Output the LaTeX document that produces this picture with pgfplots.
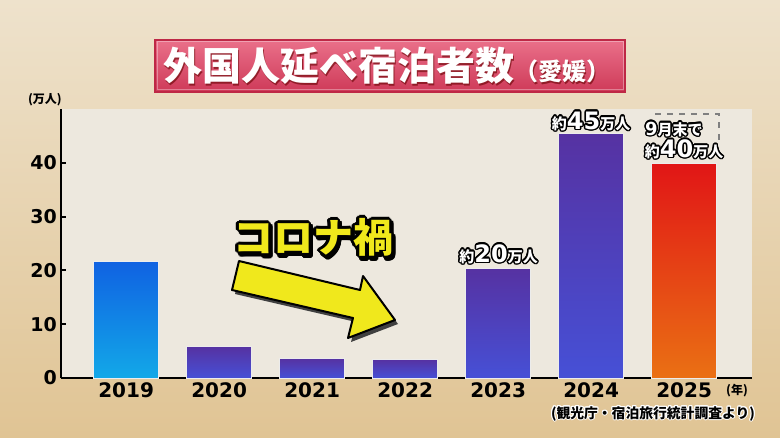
\documentclass[border=0pt]{standalone}
\usepackage{pgfplots}
\pgfplotsset{compat=1.18}
\usepackage{fontspec}
\setmainfont{DejaVu Sans}
\newfontfamily\jp{Noto Sans CJK JP}
\usepackage{contour}
\contourlength{0.7pt}
\definecolor{bgA}{RGB}{238,226,204}
\definecolor{bgB}{RGB}{224,196,148}
\definecolor{panel}{RGB}{237,232,222}
\definecolor{b19t}{RGB}{16,98,226}
\definecolor{b19b}{RGB}{18,168,232}
\definecolor{pt}{RGB}{86,50,162}
\definecolor{pb}{RGB}{70,80,214}
\definecolor{rt}{RGB}{225,22,22}
\definecolor{rb}{RGB}{234,112,20}
\definecolor{ttlT}{RGB}{234,112,138}
\definecolor{ttlB}{RGB}{206,58,88}
\definecolor{ttlD}{RGB}{190,40,70}
\definecolor{yel}{RGB}{240,232,28}
\newcommand\lbl[1]{\contour{black}{{\jp\bfseries\fontsize{7.5}{8}\selectfont 約}{\bfseries\fontsize{12}{12}\selectfont #1}{\jp\bfseries\fontsize{7.5}{8}\selectfont 万人}}}
\begin{document}
\begin{tikzpicture}
\fill[top color=bgA, bottom color=bgB] (0,0) rectangle (390pt,219pt);
\begin{axis}[
  at={(30.5pt,30pt)}, anchor=south west,
  scale only axis, width=345.5pt, height=134.5pt,
  xmin=-0.7, xmax=6.73, ymin=0, ymax=50,
  axis background/.style={fill=panel},
  axis x line=bottom, axis y line=left,
  axis line style={-, line width=1pt, black},
  ytick={0,10,20,30,40},
  xtick={0,1,2,3,4,5,6},
  xticklabels={2019,2020,2021,2022,2023,2024,2025},
  xtick style={draw=none},
  ytick style={line width=1pt, black},
  tick align=inside, major tick length=2.7pt,
  /pgf/number format/assume math mode=true,
  yticklabel style={font=\bfseries\fontsize{9.5}{10}\selectfont, xshift=1.5pt},
  xticklabel style={font=\bfseries\fontsize{10}{11}\selectfont, yshift=1.3pt},
  mybar/.style={ybar, bar width=32.5pt, bar shift=0pt, draw=white!85!gray, line width=0.4pt},
  clip=false,
]
\addplot[mybar, top color=b19t, bottom color=b19b] coordinates {(0,21.6)};
\addplot[mybar, top color=pt, bottom color=pb] coordinates {(1,5.8)};
\addplot[mybar, top color=pt, bottom color=pb] coordinates {(2,3.6)};
\addplot[mybar, top color=pt, bottom color=pb] coordinates {(3,3.4)};
\addplot[mybar, top color=pt, bottom color=pb] coordinates {(4,20.3)};
\addplot[mybar, top color=pt, bottom color=pb] coordinates {(5,45.4)};
\addplot[mybar, top color=rt, bottom color=rb] coordinates {(6,39.8)};
% labels
\node[text=white, inner sep=0pt] at (axis cs:4.005,22.9) {\lbl{20}};
\node[text=white, inner sep=0pt] at (axis cs:5.0,47.6) {\lbl{45}};
\node[text=white, inner sep=0pt] at (axis cs:6.0,42.4) {\lbl{40}};
\node[text=white, inner sep=0pt] at (axis cs:5.89,46.1) {\contour{black}{{\bfseries\fontsize{9}{9}\selectfont 9}{\jp\bfseries\fontsize{7.5}{8}\selectfont 月末で}}};
\draw[gray, dashed, line width=0.8pt] (axis cs:5.69,49.1) -- (axis cs:6.376,49.1) -- (axis cs:6.376,44.3);
\end{axis}
\begin{scope}[x=0.5pt, y=-0.5pt, shift={(0pt,219pt)}]
  % title box
  \draw[ttlD, line width=0.8pt, top color=ttlT, bottom color=ttlB] (155,40) rectangle (625,92);
  \draw[white, opacity=0.35, line width=0.5pt] (157,42) rectangle (623,90);
  \node[anchor=west, inner sep=0pt, text=black!60!red, opacity=0.6] at (164.5,67.5)
    {{\jp\bfseries\fontsize{19.5}{20}\selectfont 外国人延べ宿泊者数}{\jp\bfseries\fontsize{12}{12}\selectfont （愛媛）}};
  \node[anchor=west, inner sep=0pt, text=white] at (163,66)
    {{\jp\bfseries\fontsize{19.5}{20}\selectfont 外国人延べ宿泊者数}{\jp\bfseries\fontsize{12}{12}\selectfont （愛媛）}};
  % axis unit labels
  \node[inner sep=0pt] at (45,100) {\jp\bfseries\fontsize{6}{6}\selectfont (万人)};
  \node[inner sep=0pt] at (737,391) {\jp\bfseries\fontsize{6}{6}\selectfont (年)};
  \node[inner sep=0pt] at (653,414) {\contourlength{0.5pt}\contour{white}{\jp\bfseries\fontsize{6.9}{7}\selectfont (観光庁・宿泊旅行統計調査より)}};
  % arrow
  \fill[black!75] (242,265) -- (363,294) -- (366,280) -- (398,324) -- (351,342) -- (356,322) -- (235,294) -- cycle;
  \draw[black, line width=1pt, fill=yel, line join=round] (239,261) -- (360,290) -- (363,276) -- (395,320) -- (348,338) -- (353,318) -- (232,290) -- cycle;
  % corona text
  \node[inner sep=0pt, text=black] at (315.5,241) {\contourlength{1.1pt}\contour{black}{\jp\bfseries\fontsize{20}{20}\selectfont コロナ禍}};
  \node[inner sep=0pt, text=yel] at (313,238) {\contourlength{1.1pt}\contour{black}{\jp\bfseries\fontsize{20}{20}\selectfont コロナ禍}};
\end{scope}
\pgfresetboundingbox
\useasboundingbox (0,0) rectangle (390pt,219pt);
\end{tikzpicture}
\end{document}
